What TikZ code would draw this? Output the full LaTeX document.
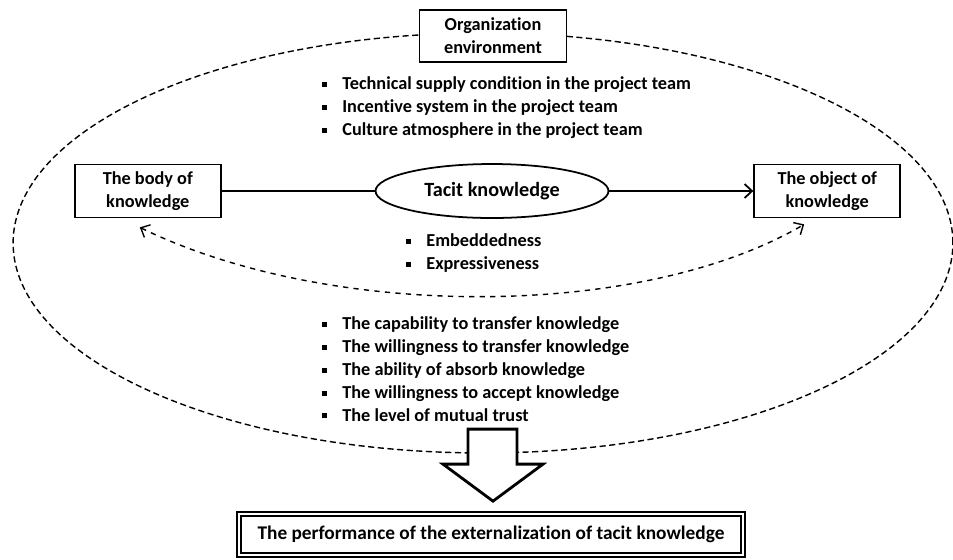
\documentclass[tikz,border=0pt]{standalone}
\usepackage{fontspec}
\setmainfont{Carlito}[Ligatures=NoCommon]
\usetikzlibrary{arrows.meta, positioning, shapes}

\newcommand{\bul}{\rule[0.3ex]{1mm}{1mm}\hspace{3mm}}

\begin{document}
\begin{tikzpicture}[x=0.02cm, y=-0.02cm, font=\bfseries\fontsize{10.4}{13}\selectfont,
    kbox/.style={draw, line width=1pt, align=center, minimum width=2.92cm, minimum height=1.06cm, inner sep=1pt},
    blist/.style={align=left, anchor=west, inner sep=0pt},
    barb/.style={-{Straight Barb[length=1.5mm, width=2.8mm]}},
    barbs/.style={{Straight Barb[length=1.5mm, width=2.8mm]}-{Straight Barb[length=1.5mm, width=2.8mm]}}]

    \useasboundingbox (0,0) rectangle (953,559);

    % Surrounding environment
    \draw[dash pattern=on 3.5pt off 2pt, line width=0.8pt] (483,243) ellipse [x radius=9.4cm, y radius=4.2cm];

    % Nodes
    \node (tacit) [draw, ellipse, line width=1pt, minimum width=4.66cm, minimum height=1.08cm, inner sep=0pt, font=\bfseries\fontsize{11.5}{14}\selectfont] at (492,191) {Tacit knowledge};
    \node (body) [kbox, left=3.06cm of tacit] {The body of\\knowledge};
    \node (object) [kbox, right=2.88cm of tacit] {The object of\\knowledge};
    \node (org) [draw, fill=white, line width=0.6pt, align=center, minimum width=2.94cm, minimum height=1.04cm, inner sep=1pt] at (493,36) {Organization\\environment};

    % Lists
    \node (envlist) [blist] at (322,107.5) {\bul Technical supply condition in the project team\\
        \bul Incentive system in the project team\\
        \bul Culture atmosphere in the project team};
    \node (tacitlist) [blist] at (406,253) {\bul Embeddedness\\
        \bul Expressiveness};
    \node (translist) [blist] at (322,369) {\bul The capability to transfer knowledge\\
        \bul The willingness to transfer knowledge\\
        \bul The ability of absorb knowledge\\
        \bul The willingness to accept knowledge\\
        \bul The level of mutual trust};

    % Result
    \node (result) [draw, double, line width=1pt, double distance=1.2pt, minimum width=10.08cm, minimum height=0.82cm, font=\bfseries\fontsize{11}{13}\selectfont] at (491,534.5) {The performance of the externalization of tacit knowledge};

    % Arrows
    \draw[line width=1pt] (body) -- (tacit);
    \draw[line width=1pt, barb] (tacit) -- (object);
    \draw[dashed, line width=0.8pt, barbs] ([shift={(-8,9)}]body.south) .. controls (330,320) and (640,320) .. ([shift={(-23,6)}]object.south);
    \draw[line width=1.6pt, fill=white, line join=miter] ([shift={(2,-12)}]result.north) -- ++(-50,-37) -- ++(25,0) -- ++(0,-35) -- ++(49,0) -- ++(0,35) -- ++(26,0) -- cycle;
\end{tikzpicture}
\end{document}
